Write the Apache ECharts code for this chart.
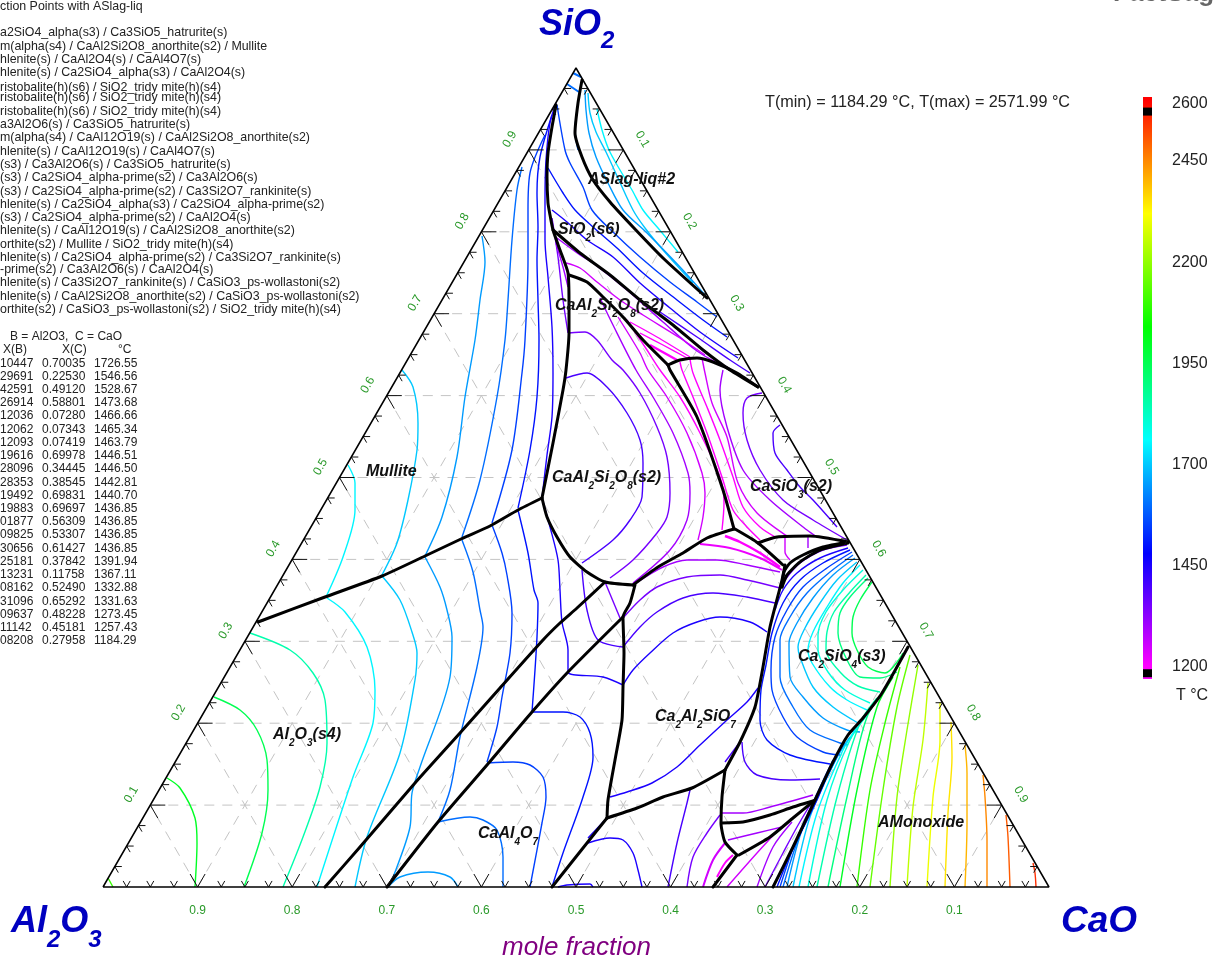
<!DOCTYPE html>
<html><head><meta charset="utf-8">
<style>html,body{margin:0;padding:0;background:#fff;overflow:hidden}#c{width:1215px;height:962px}</style>
<script src="https://cdn.jsdelivr.net/npm/echarts@6/dist/echarts.min.js"></script>
</head><body><div id="c"></div>
<script>
// ---- text data ----
const reactionTitle = 'ction Points with ASlag-liq';
const reactionLabels = [
 'a2SiO4_alpha(s3) / Ca3SiO5_hatrurite(s)',
 'm(alpha(s4) / CaAl2Si2O8_anorthite(s2) / Mullite',
 'hlenite(s) / CaAl2O4(s) / CaAl4O7(s)',
 'hlenite(s) / Ca2SiO4_alpha(s3) / CaAl2O4(s)',
 'ristobalite(h)(s6) / SiO2_tridy mite(h)(s4)',
 'ristobalite(h)(s6) / SiO2_tridy mite(h)(s4)',
 'ristobalite(h)(s6) / SiO2_tridy mite(h)(s4)',
 'a3Al2O6(s) / Ca3SiO5_hatrurite(s)',
 'm(alpha(s4) / CaAl12O19(s) / CaAl2Si2O8_anorthite(s2)',
 'hlenite(s) / CaAl12O19(s) / CaAl4O7(s)',
 '(s3) / Ca3Al2O6(s) / Ca3SiO5_hatrurite(s)',
 '(s3) / Ca2SiO4_alpha-prime(s2) / Ca3Al2O6(s)',
 '(s3) / Ca2SiO4_alpha-prime(s2) / Ca3Si2O7_rankinite(s)',
 'hlenite(s) / Ca2SiO4_alpha(s3) / Ca2SiO4_alpha-prime(s2)',
 '(s3) / Ca2SiO4_alpha-prime(s2) / CaAl2O4(s)',
 'hlenite(s) / CaAl12O19(s) / CaAl2Si2O8_anorthite(s2)',
 'orthite(s2) / Mullite / SiO2_tridy mite(h)(s4)',
 'hlenite(s) / Ca2SiO4_alpha-prime(s2) / Ca3Si2O7_rankinite(s)',
 '-prime(s2) / Ca3Al2O6(s) / CaAl2O4(s)',
 'hlenite(s) / Ca3Si2O7_rankinite(s) / CaSiO3_ps-wollastoni(s2)',
 'hlenite(s) / CaAl2Si2O8_anorthite(s2) / CaSiO3_ps-wollastoni(s2)',
 'orthite(s2) / CaSiO3_ps-wollastoni(s2) / SiO2_tridy mite(h)(s4)'
];
const reactionRows = [33,47,60,73,88,98,112,125,138,152,165,178,192,205,218,231,245,258,270,283,297,310];
const tableXB = ['10447','29691','42591','26914','12036','12062','12093','19616','28096','28353','19492','19883','01877','09825','30656','25181','13231','08162','31096','09637','11142','08208'];
const tableXC = ['0.70035','0.22530','0.49120','0.58801','0.07280','0.07343','0.07419','0.69978','0.34445','0.38545','0.69831','0.69697','0.56309','0.53307','0.61427','0.37842','0.11758','0.52490','0.65292','0.48228','0.45181','0.27958'];
const tableT  = ['1726.55','1546.56','1528.67','1473.68','1466.66','1465.34','1463.79','1446.51','1446.50','1442.81','1440.70','1436.85','1436.85','1436.85','1436.85','1391.94','1367.11','1332.88','1331.63','1273.45','1257.43','1184.29'];
const tickFractions = [0.1,0.2,0.3,0.4,0.5,0.6,0.7,0.8,0.9];
const minorFractions = [0.025,0.05,0.075,0.125,0.15,0.175,0.225,0.25,0.275,0.325,0.35,0.375,0.425,0.45,0.475,0.525,0.55,0.575,0.625,0.65,0.675,0.725,0.75,0.775,0.825,0.85,0.875,0.925,0.95,0.975];
const colorbarLabels = [1200,1450,1700,1950,2200,2450];
const colorStops = [[1200,'#ff00ff'],[1480,'#0000ff'],[1760,'#00ffff'],[2040,'#00ff00'],[2320,'#ffff00'],[2600,'#ff0000']];
const TMIN = 1184.29, TMAX = 2571.99;

// ---- phase boundaries, ternary-plane units (bottom edge = 946, height = 819) ----
const boundaries = [
 [[155,265],[222,290],[279,311],[322,331],[358,348],[387,361],[415,377],[439,389]],
 [[453,782],[449,760],[445,734],[444,710],[445,684],[447,672],[450,657],[457,637],[465,614],[466,584],[466,554],[463,517],[460,497],[450,444],[439,389]],
 [[439,389],[444,370],[454,350],[467,330],[484,315],[502,305],[530,302]],
 [[222,0],[257,40],[312,104],[357,154],[397,199],[440,247],[457,264],[474,279],[502,305]],
 [[284,0],[335,65],[384,122],[429,175],[465,215],[520,270]],
 [[532,302],[527,284],[520,270],[521,234],[520,200],[519,167],[512,127],[505,87],[504,69]],
 [[504,69],[484,44],[449,0]],
 [[504,69],[534,79],[560,90],[589,99],[622,117]],
 [[622,117],[637,145],[652,180],[660,220],[667,260],[679,307],[682,322]],
 [[622,117],[619,90],[618,64],[622,45],[634,32]],
 [[634,32],[610,0]],
 [[636,32],[667,50],[690,69],[712,87]],
 [[619,64],[640,65],[667,72],[690,80],[710,86]],
 [[670,0],[690,40],[712,87],[730,125],[745,152],[760,169],[779,194],[805,240]],
 [[479,807],[475,784],[472,754],[479,730],[490,707],[507,685],[530,660],[560,629],[604,589]],
 [[450,657],[477,634],[507,612],[537,587],[570,562],[600,537],[627,517],[655,500]],
 [[466,612],[484,605],[500,590],[520,570],[540,547],[565,522]],
 [[565,522],[577,527],[594,529],[610,525],[634,514],[655,500]],
 [[565,522],[567,517],[594,470],[620,397],[631,358]],
 [[631,358],[604,349],[580,334],[555,320],[530,302]],
 [[632,358],[655,344],[680,322]],
 [[655,344],[674,350],[707,351],[745,345]],
 [[745,345],[720,340],[700,332],[687,324],[681,315],[679,300]],
 [[745,344],[717,337],[697,325],[684,312],[679,300]]
];

// ---- isotherms: [temperature, points, optional width] ----
const isoSlag = [
 [1750,[[494,778],[499,757],[506,737],[517,717],[529,697],[540,677],[555,659],[575,635]]],
 [1700,[[485,794],[487,774],[493,755],[503,735],[515,709],[530,677],[542,659],[560,637],[590,604]]],
 [1650,[[482,797],[483,777],[486,754],[493,730],[505,704],[520,677],[544,654],[577,620],[602,592]]],
 [1600,[[470,814],[478,810]],2],
 [1600,[[464,803],[476,795]],2],
 [1600,[[474,777],[472,757],[475,737]]],
 [1550,[[454,782],[462,737],[467,724],[480,700],[489,677],[510,655],[537,630],[567,605],[594,585],[614,570]]],
 [1500,[[445,719],[460,694],[472,677],[490,660],[514,639],[540,614],[574,587],[600,567],[624,550]]],
 [1450,[[449,677],[464,665],[484,647],[510,630],[537,604],[567,579],[597,555],[635,529]]],
 [1400,[[557,575],[594,550],[627,527],[647,514]]]
];
const isoUpperAnorthite = [
 [1300,[[454,649],[477,632],[490,624],[524,597],[560,565],[594,536],[624,519]]],
 [1250,[[463,624],[477,619],[494,605],[517,587],[540,572],[577,549],[602,532]]],
 [1200,[[527,565],[554,550],[587,530]]],
 [1200,[[537,554],[560,542],[584,529]]],
 [1200,[[547,542],[574,527]],2.5]
];
const isoWollastonite = [
 [1200,[[577,525],[579,517],[590,490],[604,454],[619,410],[630,377],[644,360],[657,347]]],
 [1200,[[587,528],[590,514],[604,480],[617,447],[630,410],[640,380],[657,360],[674,349]]],
 [1250,[[599,529],[602,514],[609,484],[624,450],[635,404],[654,374],[684,351]]],
 [1300,[[620,517],[617,497],[624,460],[640,417],[667,387],[704,357],[714,350]]],
 [1350,[[659,494],[644,489],[640,474],[644,447],[657,417],[680,387],[710,367],[744,347]]],
 [1400,[[677,462],[670,454],[672,434],[684,417],[697,400],[710,387],[734,360]]],
 [1250,[[682,349],[682,335],[687,327]]],
 [1300,[[705,350],[705,339]]]
];
const isoAnorthite = [
 [1400,[[463,509],[484,514],[504,500],[524,474],[537,447],[540,424],[539,390],[527,367],[510,347],[479,324]]],
 [1400,[[479,317],[484,277],[495,247],[520,240]]],
 [1350,[[466,554],[482,555],[494,547],[509,527],[520,517],[537,494],[554,460],[564,430],[567,394],[564,370],[554,354],[530,327],[507,309]]],
 [1350,[[502,305],[517,269]]],
 [1300,[[497,589],[510,562],[533,517],[550,490],[570,454],[585,414],[587,394],[584,367],[567,337],[530,304]]],
 [1250,[[515,570],[537,534],[545,517],[564,490],[584,454],[599,414],[602,394],[600,370],[595,347]]],
 [1200,[[524,567],[544,537],[557,517],[577,490],[597,454],[617,410],[621,384],[619,357]]]
];
const isoGehlenite = [
 [1200,[[622,351],[637,345],[657,334],[677,320]],2.5],
 [1220,[[597,343],[627,339],[657,329],[679,317]],2],
 [1300,[[533,304],[560,320],[584,327],[614,327],[644,322],[677,315]]],
 [1350,[[520,269],[537,287],[554,300],[584,310],[617,312],[644,307],[677,299]]],
 [1400,[[520,240],[537,260],[554,275],[580,289],[610,294],[644,290],[672,284]]],
 [1450,[[520,202],[530,217],[547,234],[570,254],[594,265],[617,270],[647,265],[664,255]]],
 [1450,[[655,199],[644,185],[624,167],[597,142],[574,120],[549,104],[524,95],[507,90]]]
];
const isoLowerMiddle = [
 [1400,[[587,97],[584,84],[574,44],[565,0]]],
 [1400,[[637,145],[622,125]]],
 [1350,[[617,72],[604,54],[590,30],[584,0]]],
 [1300,[[619,74],[640,74],[667,80],[710,92]]],
 [1300,[[625,47],[654,54],[679,60]]],
 [1250,[[622,44],[610,27],[600,0]],2],
 [1200,[[630,32],[622,24],[614,10]],2],
 [1250,[[677,59],[654,34],[624,0]]],
 [1300,[[689,65],[670,40],[654,0]]],
 [1350,[[710,87],[694,60],[680,34],[662,0]]],
 [1450,[[485,44],[507,49],[520,47],[530,34],[535,17],[539,0]]],
 [1450,[[455,0],[464,2],[487,3],[490,0]]],
 [1450,[[485,49],[504,69]]],
 [1500,[[449,0],[460,34],[480,90],[490,130],[487,154],[477,170],[460,175],[430,175]]],
 [1550,[[427,0],[439,64],[443,90],[440,110],[427,122],[410,125],[384,124]]],
 [1600,[[335,65],[367,70],[380,67],[394,57],[400,30],[400,0]]],
 [1650,[[285,0],[297,10],[325,15],[347,10],[355,0]]]
];
const isoAlumina = [
 [2100,[[5,9],[10,0]]],
 [2000,[[64,109],[77,99],[92,69],[94,44],[92,0]]],
 [1950,[[111,190],[137,177],[154,157],[164,127],[165,97],[159,54],[141,0]]],
 [1850,[[147,254],[187,237],[210,214],[222,187],[224,144],[217,100],[200,50],[180,0]]],
 [1750,[[245,422],[252,404],[252,377],[240,330],[223,290]]],
 [1750,[[224,289],[242,275],[264,240],[272,197],[270,164],[250,110],[214,0]]],
 [1700,[[299,517],[310,500],[315,464],[314,437],[305,387],[294,344],[279,312]]],
 [1700,[[279,311],[297,287],[309,255],[314,234],[312,207],[297,134],[264,50],[252,0]]],
 [1650,[[379,651],[382,625],[377,587],[372,547],[362,490],[354,430],[339,370],[322,331]]],
 [1650,[[322,330],[337,300],[344,277],[349,250],[347,210],[317,120],[309,94],[307,60],[289,7],[285,0]]],
 [1600,[[419,720],[414,697],[409,647],[405,587],[402,547],[394,490],[377,407],[359,350]]],
 [1600,[[359,347],[370,315],[377,277],[380,260],[374,220],[357,150],[347,97],[335,65]]],
 [1550,[[442,752],[427,714],[425,677],[425,627],[422,547],[419,514],[409,437],[389,364]]],
 [1550,[[389,362],[399,334],[404,312],[409,274],[407,234],[399,190],[394,160],[384,125]]],
 [1500,[[449,772],[437,730],[434,694],[435,660],[434,627],[435,587],[436,547],[434,490],[427,437],[415,379]]],
 [1500,[[415,377],[425,334],[431,297],[435,284],[434,250],[432,217],[429,175]]],
 [1450,[[453,784],[447,764],[443,727],[442,687],[442,647],[445,610],[449,560],[450,514],[449,470],[444,432],[439,389]]],
 [1450,[[439,389],[447,360],[455,327],[457,297],[459,265],[465,237],[465,215],[500,210],[520,202]]],
 [1350,[[449,669],[455,630],[460,587],[465,554]]],
 [1300,[[453,644],[460,620],[465,600]]]
];
const isoDicalcium = [
 [1350,[[744,342],[720,337],[697,324],[682,307]]],
 [1450,[[745,339],[717,329],[694,314],[680,297],[672,277]]],
 [1500,[[747,337],[720,324],[697,307],[680,284],[669,254],[663,222],[658,197],[657,167],[664,147],[687,132],[727,123]]],
 [1550,[[749,335],[724,319],[700,300],[684,277],[672,250],[668,217],[669,197],[680,170],[694,150],[720,135],[737,132]]],
 [1600,[[750,332],[727,315],[704,294],[687,270],[677,247],[677,210],[690,180],[707,157],[737,144],[745,142]]],
 [1650,[[752,329],[730,312],[710,289],[694,264],[686,244],[687,210],[700,190],[720,169],[744,157],[757,155]]],
 [1700,[[754,325],[734,307],[717,284],[702,259],[695,240],[697,230],[710,200],[730,180],[755,164]]],
 [1750,[[757,322],[740,304],[724,280],[710,255],[705,237],[709,224],[727,200],[744,187],[764,177]]],
 [1800,[[760,317],[740,297],[723,275],[715,252],[715,237],[725,215],[742,197],[767,184]]],
 [1850,[[763,312],[747,295],[731,275],[724,255],[723,237],[737,215],[755,201],[777,195]]],
 [1900,[[765,309],[747,290],[737,274],[735,254],[744,227],[757,210],[777,209],[794,215]]],
 [1950,[[769,305],[757,287],[750,270],[749,254],[754,237],[765,220],[782,214],[800,234]]],
 [1400,[[639,145],[642,125],[654,112],[687,107],[717,108]]]
];
const isoMonoxide = [
 [2550,[[930,24],[932,14],[933,0]]],
 [2500,[[903,72],[905,50],[907,0]]],
 [2450,[[880,112],[882,90],[884,47],[884,0]]],
 [2400,[[862,142],[864,114],[864,64],[862,0]]],
 [2350,[[848,165],[849,130],[845,74],[842,0]]],
 [2300,[[837,185],[837,147],[830,90],[824,0]]],
 [2250,[[825,204],[820,147],[810,80],[804,0]]],
 [2200,[[815,222],[804,157],[794,90],[787,0]]],
 [2150,[[807,232],[794,180],[780,97],[767,0]]],
 [2100,[[797,220],[782,164],[767,97],[754,0]]],
 [2000,[[790,210],[774,180],[754,97],[737,0]]],
 [1900,[[784,200],[764,170],[744,90],[725,0]]],
 [1850,[[774,189],[757,164],[734,90],[714,0]]],
 [1800,[[764,172],[747,147],[724,87],[705,0]]],
 [1750,[[754,160],[740,137],[714,74],[696,0]]],
 [1700,[[747,150],[734,130],[707,70],[690,0]]],
 [1650,[[742,144],[729,120],[700,60],[684,0]]],
 [1600,[[737,137],[724,110],[696,50],[680,0]]],
 [1550,[[730,127],[719,104],[692,44],[677,0]]],
 [1500,[[725,114],[714,87],[688,34],[674,0]]]
];
// phase labels: start position on the page, alternating normal/subscript parts
const phaseLabels = [
 [588,180,['ASlag-liq#2']],
 [558,230,['SiO','2','(s6)']],
 [555,306,['CaAl','2','Si','2','O','8','(s2)']],
 [552,478,['CaAl','2','Si','2','O','8','(s2)']],
 [366,472,['Mullite']],
 [750,487,['CaSiO','3','(s2)']],
 [798,657,['Ca','2','SiO','4','(s3)']],
 [655,717,['Ca','2','Al','2','SiO','7']],
 [273,735,['Al','2','O','3','(s4)']],
 [478,834,['CaAl','4','O','7']],
 [878,823,['AMonoxide']]
];

// ---- helpers ----
const W = 946, H = 819;
function lerpColor(T){
  for(let i=0;i<colorStops.length-1;i++){
    const [a,ca]=colorStops[i],[b,cb]=colorStops[i+1];
    if(T<=b){
      const t=Math.max(0,(T-a)/(b-a));
      const p=s=>[1,3,5].map(k=>parseInt(s.substr(k,2),16));
      const A=p(ca),B=p(cb);
      return 'rgb('+A.map((v,j)=>Math.round(v+(B[j]-v)*t)).join(',')+')';
    }
  }
  return '#ff0000';
}
const plane = (si,ca)=>[W*(ca+si/2),H*si];
const GAP = ['-','-'];
const gridData=[];
tickFractions.forEach(f=>{
  gridData.push(plane(f,0),plane(f,1-f),GAP);      // constant SiO2
  gridData.push(plane(0,f),plane(1-f,f),GAP);      // constant CaO
  gridData.push(plane(0,1-f),plane(1-f,0),GAP);    // constant Al2O3
});
const tickData=[];
function addTicks(list,len){
  list.forEach(f=>{
    const L=plane(f,0),R=plane(f,1-f),B=[W*f,0];
    const seg=(P,dx,dy)=>tickData.push(P,[P[0]+dx*len,P[1]+dy*len],GAP);
    seg(L,1,0);seg(L,.5,-.866);
    seg(R,-1,0);seg(R,-.5,-.866);
    seg(B,-.5,.866);seg(B,.5,.866);
  });
}
addTicks(tickFractions,15);addTicks(minorFractions,7);

const base={type:'line',showSymbol:false,symbol:'none',silent:true,clip:false,animation:false,xAxisIndex:0,yAxisIndex:0};
const series=[];
series.push({...base,data:gridData,connectNulls:false,lineStyle:{color:'#c4c4c4',width:1,type:[10,8]},z:1});
[isoSlag,isoUpperAnorthite,isoWollastonite,isoAnorthite,isoGehlenite,isoLowerMiddle,isoAlumina,isoDicalcium,isoMonoxide].forEach(g=>g.forEach(([T,pts,w])=>{
  series.push({...base,data:pts,smooth:0.3,lineStyle:{color:lerpColor(T),width:w||1.4},z:2});
}));
boundaries.forEach(b=>series.push({...base,data:b,smooth:0.2,lineStyle:{color:'#000',width:3,join:'round',cap:'round'},z:3}));
series.push({...base,data:tickData,connectNulls:false,lineStyle:{color:'#111',width:1},z:4});
series.push({...base,data:[[0,0],[W,0],[W/2,H],[0,0]],lineStyle:{color:'#000',width:1.5},z:5});

// colour bar
const BAR_LO=1170,BAR_HI=2608;
const barStops=[];
for(let i=colorStops.length-1;i>=0;i--){const T=colorStops[i][0];barStops.push({offset:(BAR_HI-T)/(BAR_HI-BAR_LO),color:colorStops[i][1]});}
barStops.unshift({offset:0,color:'#ff0000'});barStops.push({offset:1,color:'#ff00ff'});
series.push({type:'bar',xAxisIndex:1,yAxisIndex:1,data:[BAR_HI],barWidth:'100%',silent:true,animation:false,z:2,
  itemStyle:{color:{type:'linear',x:0,y:0,x2:0,y2:1,colorStops:barStops}}});
series.push({type:'scatter',xAxisIndex:1,yAxisIndex:1,data:[['T',TMAX],['T',TMIN]],symbol:'rect',symbolSize:[9,8],silent:true,animation:false,z:3,itemStyle:{color:'#000',opacity:1}});

// text
const FF='"Liberation Sans",Arial,sans-serif';
const gfx=[];
function txt(x,y,text,font,fill,opt={}){
  gfx.push({type:'text',x,y,rotation:opt.rot||0,silent:true,z:20,
    style:{x:0,y:0,text,font,fill,align:opt.align||'left',verticalAlign:opt.va||'middle'}});
}
const ctx=document.createElement('canvas').getContext('2d');
function measure(font,s){ctx.font=font;return ctx.measureText(s).width;}
function layered(x,y,parts,fMain,fSub,dy,fill,pad){
  parts.forEach((p,i)=>{
    const sub=i%2===1,f=sub?fSub:fMain;
    txt(x,y+(sub?dy:0),p,f,fill);
    x+=measure(f,p)+(sub?pad:0);
  });
}
const SMALL='12.4px '+FF, DARK='#222';
txt(0,7,reactionTitle,SMALL,DARK);
reactionLabels.forEach((s,i)=>txt(0,reactionRows[i],s,SMALL,DARK));
txt(10,337,'B = Al2O3,  C = CaO','12px '+FF,DARK);
txt(3,350,'X(B)','12px '+FF,DARK);txt(62,350,'X(C)','12px '+FF,DARK);txt(118,350,'°C','12px '+FF,DARK);
tableXB.forEach((v,i)=>{
  const y=363.3+13.22*i, F='12px '+FF;
  txt(0,y,v,F,DARK);txt(42,y,tableXC[i],F,DARK);txt(94,y,tableT[i],F,DARK);
});
const GREEN='#2a9a2a', TF='12px '+FF;
tickFractions.forEach(f=>{
  const s=f.toFixed(1);
  const L=plane(f,0);                 // SiO2 scale, left edge
  txt(103+L[0]-19,887-L[1]-10.5,s,TF,GREEN,{rot:Math.PI/3,align:'center'});
  const R=plane(1-f,f);               // CaO scale, right edge
  txt(103+R[0]+19,887-R[1]-10.5,s,TF,GREEN,{rot:-Math.PI/3,align:'center'});
  txt(103+W*(1-f),911,s,TF,GREEN,{align:'center'});  // Al2O3 scale, bottom
});
phaseLabels.forEach(([x,y,parts])=>layered(x,y,parts,'italic bold 16px '+FF,'italic bold 10px '+FF,8,'#111',0));
const BLUE='#0000c0', BIG='italic bold 36px '+FF, BIGS='italic bold 24px '+FF;
layered(539,25,['SiO','2'],BIG,BIGS,16,BLUE,0);
layered(11,922,['Al','2','O','3'],BIG,BIGS,18,BLUE,0);
txt(1061,922,'CaO','italic bold 37px '+FF,BLUE);
txt(502,948,'mole fraction','italic 26px '+FF,'#800080');
txt(765,103,'T(min) = 1184.29 °C, T(max) = 2571.99 °C','16.2px '+FF,DARK);
txt(1172,104,'2600','16px '+FF,DARK);
txt(1176,696,'T °C','16px '+FF,DARK);
txt(1113,7,'FactSage','bold 26px '+FF,'#666',{va:'bottom'});

const chart=echarts.init(document.getElementById('c'),null,{renderer:'canvas'});
chart.setOption({
  animation:false,backgroundColor:'#fff',
  grid:[{left:103,top:68,width:W,height:H,containLabel:false},{left:1143,top:97,width:9,height:582}],
  xAxis:[{type:'value',min:0,max:W,show:false,gridIndex:0},
         {type:'category',data:['T'],show:false,gridIndex:1}],
  yAxis:[{type:'value',min:0,max:H,show:false,gridIndex:0},
         {type:'value',gridIndex:1,min:BAR_LO,max:BAR_HI,position:'right',
          axisLine:{show:false},axisTick:{show:false},splitLine:{show:false},
          axisLabel:{customValues:colorbarLabels,formatter:v=>String(v),color:DARK,fontSize:16,fontFamily:'Liberation Sans',margin:20,showMinLabel:true,showMaxLabel:true}}],
  series,
  graphic:{elements:gfx}
});
</script>
</body></html>
